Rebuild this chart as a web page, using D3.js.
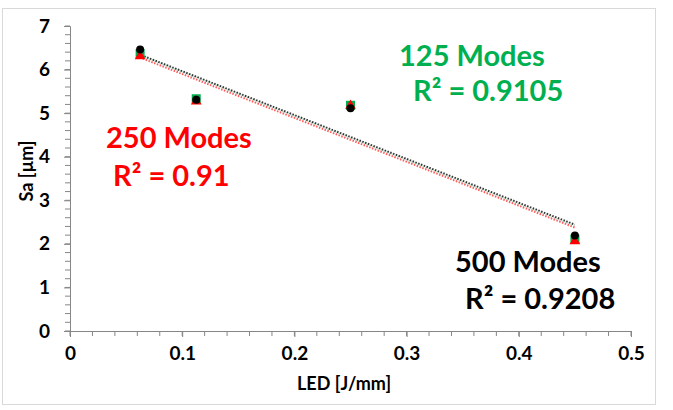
<!DOCTYPE html>
<html><head><meta charset="utf-8">
<script src="https://cdn.jsdelivr.net/npm/d3@7"></script>
<style>body{margin:0;background:#fff}svg{display:block}text{font-family:Lato,"Open Sans",sans-serif}</style>
</head><body>
<script>
const ledValues = [0.0625, 0.1125, 0.25, 0.45];
const sa125 = [6.37, 5.33, 5.18, 2.11];
const sa250 = [6.31, 5.27, 5.17, 2.06];
const sa500 = [6.46, 5.31, 5.11, 2.19];
const seriesNames = ["125 Modes", "250 Modes", "500 Modes"];
const r2Labels = ["R² = 0.9105", "R² = 0.91", "R² = 0.9208"];
const xTicks = [0, 0.1, 0.2, 0.3, 0.4, 0.5];
const yTicks = [0, 1, 2, 3, 4, 5, 6, 7];

const W = 673, H = 410;
const svg = d3.select("body").append("svg").attr("width", W).attr("height", H);
svg.append("rect").attr("x", 2.5).attr("y", 8.5).attr("width", 653).attr("height", 396)
  .attr("fill", "#fff").attr("stroke", "#d9d9d9");

const x = d3.scaleLinear().domain([0, 0.5]).range([70, 631]);
const y = d3.scaleLinear().domain([0, 7]).range([331, 26]);
const axisColor = "#868686";

// minor ticks
const xMinor = d3.range(0, 0.5001, 0.02);
const yMinor = d3.range(0, 7.0001, 0.2);
svg.append("g").selectAll("line").data(xMinor).join("line")
  .attr("x1", d => x(d)).attr("x2", d => x(d)).attr("y1", y(0)).attr("y2", y(0) + 5)
  .attr("stroke", axisColor);
svg.append("g").selectAll("line").data(yMinor).join("line")
  .attr("x1", x(0) - 5).attr("x2", x(0)).attr("y1", d => y(d)).attr("y2", d => y(d))
  .attr("stroke", axisColor);

const xAxis = svg.append("g").attr("transform", `translate(0,${y(0)})`)
  .call(d3.axisBottom(x).tickValues(xTicks).tickFormat(d => d === 0 ? "0" : d3.format(".1f")(d)).tickSize(6).tickPadding(10));
const yAxis = svg.append("g").attr("transform", `translate(${x(0)},0)`)
  .call(d3.axisLeft(y).tickValues(yTicks).tickFormat(d3.format("d")).tickSize(6).tickPadding(14));
[xAxis, yAxis].forEach(g => {
  g.select(".domain").attr("stroke", axisColor);
  g.selectAll(".tick line").attr("stroke", axisColor);
  g.selectAll(".tick text").attr("fill", "#000").style("font-size", "19px").style("font-weight", "bold").style("font-family", "Lato");
});

svg.append("text").attr("x", 344).attr("y", 390).attr("text-anchor", "middle")
  .style("font-size", "18px").style("font-weight", "bold").text("LED [J/mm]");
svg.append("text").attr("transform", "translate(33,171) rotate(-90)").attr("text-anchor", "middle")
  .style("font-size", "18px").style("font-weight", "bold").text("Sa [µm]");

// trendlines
function fit(xs, ys) {
  const mx = d3.mean(xs), my = d3.mean(ys);
  const sxy = d3.sum(xs, (v, i) => (v - mx) * (ys[i] - my));
  const sxx = d3.sum(xs, v => (v - mx) * (v - mx));
  const b = sxy / sxx, a = my - b * mx;
  return [[d3.min(xs), a + b * d3.min(xs)], [d3.max(xs), a + b * d3.max(xs)]];
}
const colors = ["#00b050", "#ff0000", "#000000"];
const data = [sa125, sa250, sa500];
const line = d3.line().x(d => x(d[0])).y(d => y(d[1]));
data.forEach((ys, i) => {
  svg.append("path").attr("d", line(fit(ledValues, ys))).attr("fill", "none")
    .attr("stroke", i === 2 ? "#000" : (i === 1 ? "#ff3030" : "#00b050")).attr("stroke-width", 2)
    .attr("stroke-dasharray", "1.5,1.5").attr("stroke-dashoffset", i === 2 ? 1.5 : 0)
    .attr("opacity", i === 0 ? 0.2 : 0.8);
});

// markers
svg.append("g").selectAll("rect").data(ledValues).join("rect")
  .attr("x", (d, i) => x(d) - 4.5).attr("y", (d, i) => y(sa125[i]) - 4.5)
  .attr("width", 9).attr("height", 9).attr("fill", "#00b050");
const tri = d3.symbol().type(d3.symbolTriangle).size(50);
svg.append("g").selectAll("path").data(ledValues).join("path")
  .attr("transform", (d, i) => `translate(${x(d)},${y(sa250[i])})`)
  .attr("d", tri).attr("fill", "#ff0000");
svg.append("g").selectAll("circle").data(ledValues).join("circle")
  .attr("cx", d => x(d)).attr("cy", (d, i) => y(sa500[i])).attr("r", 4).attr("fill", "#000");

// annotations
const ann = [
  {n: 0, x1: 399, y1: 66, x2: 413, y2: 101},
  {n: 1, x1: 106, y1: 148, x2: 113, y2: 186},
  {n: 2, x1: 455, y1: 272, x2: 465, y2: 309}
];
ann.forEach(a => {
  svg.append("text").attr("x", a.x1).attr("y", a.y1).attr("fill", colors[a.n])
    .style("font-size", "29px").style("font-weight", "bold").text(seriesNames[a.n]);
  svg.append("text").attr("x", a.x2).attr("y", a.y2).attr("fill", colors[a.n])
    .style("font-size", "29px").style("font-weight", "bold").text(r2Labels[a.n]);
});
</script>
</body></html>
